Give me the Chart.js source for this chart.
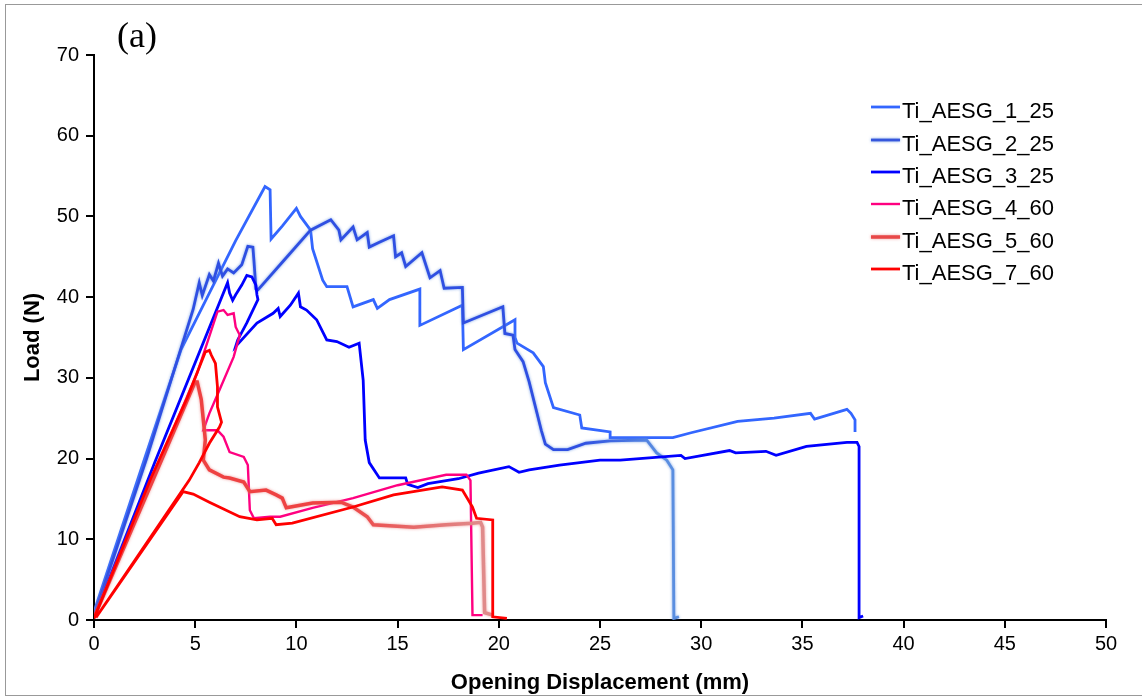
<!DOCTYPE html>
<html>
<head>
<meta charset="utf-8">
<script src="https://cdn.jsdelivr.net/npm/chart.js@4.4.1/dist/chart.umd.min.js"></script>
<style>
  html, body { margin: 0; padding: 0; background: #ffffff; }
  #wrap { position: relative; width: 1142px; height: 698px; overflow: hidden; }
  #frame { position: absolute; left: 5px; top: 4px; width: 1145px; height: 692px;
           border: 1px solid #999999; box-sizing: border-box; }
  #c { position: absolute; left: 0; top: 0; }
</style>
</head>
<body>
<div id="wrap">
  <div id="frame"></div>
  <canvas id="c" width="1142" height="698"></canvas>
</div>
<script>
// Load vs. opening displacement, [displacement (mm), load (N)] pairs per specimen
const ti1_25 = [[0,1.0],[2.5,20],[4.3,33.5],[5.5,39.5],[7.0,47],[8.45,53.7],[8.7,53.3],[8.75,47.2],
  [9.3,48.8],[10.0,51],[10.2,50],[10.7,48.3],[10.8,46],[11.3,42.1],[11.5,41.3],[12.5,41.3],[12.8,38.8],
  [13.8,39.7],[14.0,38.6],[14.6,39.7],[16.1,41],[16.1,36.5],[18.2,39],[18.25,33.5],[20.8,37.2],[20.8,35],
  [20.9,34.3],[21.7,33.1],[22.2,31.4],[22.3,29.4],[22.7,26.3],[24.0,25.4],[24.1,23.8],[25.5,23.3],[25.5,22.6],
  [28.6,22.6],[29.5,23.2],[31.8,24.6],[33.6,25],[35.4,25.6],[35.6,24.9],[37.2,26.1],[37.4,25.6],[37.6,24.8],[37.6,23.3]];

const ti2_25 = [[0,0.5],[2.6,20],[4.9,38.5],[5.2,41.8],[5.35,40.2],[5.7,42.8],[5.9,42],[6.15,44.2],
  [6.35,42.6],[6.6,43.5],[6.9,43],[7.3,44],[7.6,46.3],[7.85,46.2],[7.9,44.6],[8.0,41],[8.1,40.9],
  [9.4,44.6],[10.7,48.3],[11.7,49.6],[12.1,48.3],[12.2,47.1],[12.8,48.7],[13.0,47.1],[13.5,48.0],
  [13.6,46.2],[14.1,46.8],[14.8,47.6],[14.9,45],[15.2,45.5],[15.4,43.8],[16.2,45.5],[16.6,42.4],
  [17.1,43.3],[17.3,41.1],[18.2,41.2],[18.25,36.8],[20.2,38.8],[20.3,35.5],[20.7,35.3],[20.8,33.5],
  [21.2,32],[21.5,29.5],[21.8,26.5],[22.1,23.5],[22.3,21.8],[22.7,21.1],[23.4,21.1],[24.3,21.9],
  [25.5,22.2],[27.3,22.3],[27.8,20.7],[28.3,19.8],[28.6,18.6],[28.65,0.2],[28.9,0.4]];

const ti3_25 = [[0,0.3],[3.0,19.5],[6.6,41.8],[6.7,40.5],[6.85,39.6],[7.0,40.3],[7.3,41.5],[7.55,42.7],
  [7.8,42.5],[8.0,41.5],[8.05,40.3],[8.1,39.7],[7.55,36.8],[7.1,34.7],[7.0,33.9],[8.05,36.8],[8.85,38],
  [9.1,38.6],[9.2,37.6],[9.7,39],[10.1,40.5],[10.2,38.8],[10.5,38.4],[11.0,37.2],[11.5,34.7],[12.0,34.5],
  [12.6,33.8],[13.1,34.3],[13.3,29.7],[13.4,22.3],[13.6,19.5],[14.1,17.6],[15.4,17.6],[15.5,16.8],
  [16.0,16.4],[16.5,16.9],[18.0,17.5],[19.0,18.2],[20.5,19],[21.0,18.3],[21.5,18.6],[23.0,19.2],
  [25.0,19.8],[26.0,19.8],[29.0,20.4],[29.2,20],[31.4,21],[31.7,20.7],[33.2,20.9],[33.7,20.4],
  [35.2,21.5],[37.2,22],[37.7,22],[37.8,21.5],[37.8,0.3],[38.0,0.5]];

const ti4_60 = [[0,0.3],[3.3,20],[5.1,30.6],[6.1,38.2],[6.4,38.4],[6.6,37.8],[6.9,38.0],[7.0,36.3],
  [7.2,35.3],[6.9,32.6],[6.2,28.5],[5.7,25.6],[5.4,23.5],[6.1,23.5],[6.4,22.7],[6.7,20.8],[7.4,20.2],
  [7.6,19.2],[7.7,13.6],[7.9,12.6],[8.7,12.8],[9.2,12.8],[10.8,13.9],[12.8,15.1],[15.0,16.7],
  [17.4,18.0],[18.4,18.0],[18.6,17.3],[18.7,0.6],[19.2,0.6]];

const ti5_60 = [[0,0.3],[2.0,12],[5.0,29.5],[5.1,29.5],[5.3,27.3],[5.5,22.3],[5.4,19.8],[5.7,18.6],
  [6.4,17.7],[6.7,17.6],[7.4,17.1],[7.7,15.9],[8.5,16.1],[9.0,15.5],[9.3,15.1],[9.5,13.9],[10.8,14.5],
  [12.2,14.6],[12.8,14.0],[13.5,12.8],[13.8,11.8],[15.8,11.5],[17.4,11.8],[18.7,12.0],[19.1,12.1],
  [19.2,11.5],[19.3,0.9],[19.7,0.6]];

const ti7_60 = [[0,0.2],[2.8,17.5],[4.6,27.5],[5.5,33.2],[5.7,33.4],[5.8,32.8],[6.0,31.8],[6.1,28.9],
  [6.1,26.4],[6.3,24.5],[6.2,23.9],[5.7,21.9],[5.2,19.5],[4.7,17.3],[0.1,0.3],[4.4,15.9],[4.9,15.6],
  [5.7,14.6],[7.2,12.8],[8.05,12.4],[8.8,12.6],[9.0,11.8],[9.8,12.0],[12.8,14.0],[14.8,15.5],
  [17.2,16.5],[18.2,16.1],[18.7,14.0],[18.9,12.6],[19.7,12.4],[19.7,0.4],[20.4,0.2]];

const seriesLabels = ['Ti_AESG_1_25', 'Ti_AESG_2_25', 'Ti_AESG_3_25', 'Ti_AESG_4_60', 'Ti_AESG_5_60', 'Ti_AESG_7_60'];
const seriesData = [ti1_25, ti2_25, ti3_25, ti4_60, ti5_60, ti7_60];
const xTicks = [0, 5, 10, 15, 20, 25, 30, 35, 40, 45, 50];
const yTicks = [0, 10, 20, 30, 40, 50, 60, 70];

const SANS = '"Liberation Sans", Arial, sans-serif';

// Horizontal colour fade along the x axis for the two softer traces
function fade(from, to, x0, x1) {
  return function (ctx) {
    const chart = ctx.chart;
    const xs = chart.scales.x;
    if (!chart.chartArea || !xs) return from;
    const g = chart.ctx.createLinearGradient(xs.getPixelForValue(x0), 0, xs.getPixelForValue(x1), 0);
    g.addColorStop(0, from);
    g.addColorStop(1, to);
    return g;
  };
}

const styles = [
  { color: '#3366FF', width: 2.8 },
  { color: fade('#2F4FE2', '#5A8EE0', 24, 28), legend: '#3556DC', width: 2.8, glow: 'rgba(90,140,225,0.8)' },
  { color: '#0000FF', width: 2.8 },
  { color: '#FF0080', width: 2.4 },
  { color: fade('#EE4242', '#E08A8A', 12, 19), legend: '#E84848', width: 3.5, glow: 'rgba(235,130,130,0.8)' },
  { color: '#FF0000', width: 2.8 }
];

const datasets = seriesData.map((pts, i) => ({
  label: seriesLabels[i],
  data: pts.map(p => ({ x: p[0], y: p[1] })),
  showLine: true,
  borderColor: styles[i].color,
  borderWidth: styles[i].width,
  pointRadius: 0,
  tension: 0,
  fill: false,
  order: seriesData.length - i
}));

// Soft halo under the glowing traces
const glowPlugin = {
  id: 'glow',
  beforeDatasetDraw(chart, args) {
    const st = styles[args.index];
    chart.ctx.save();
    if (st.glow) {
      chart.ctx.shadowColor = st.glow;
      chart.ctx.shadowBlur = 3;
    }
  },
  afterDatasetDraw(chart) {
    chart.ctx.restore();
  }
};

// Legend block inside the plot and the panel tag
const decorPlugin = {
  id: 'decor',
  afterDraw(chart) {
    const c = chart.ctx;
    c.save();
    const baselines = [118, 151, 183, 215, 248, 280];
    seriesLabels.forEach((lab, i) => {
      const st = styles[i];
      const yLine = baselines[i] - 11;
      c.save();
      if (st.glow) { c.shadowColor = st.glow; c.shadowBlur = 3; }
      c.strokeStyle = st.legend || st.color;
      c.lineWidth = st.width;
      c.beginPath();
      c.moveTo(871, yLine);
      c.lineTo(900, yLine);
      c.stroke();
      c.restore();
      c.fillStyle = '#000';
      c.font = '22px ' + SANS;
      c.textAlign = 'left';
      c.textBaseline = 'alphabetic';
      c.fillText(lab, 902, baselines[i]);
    });
    c.fillStyle = '#000';
    c.font = '36px "Liberation Serif", "Times New Roman", serif';
    c.textAlign = 'left';
    c.textBaseline = 'alphabetic';
    c.fillText('(a)', 117, 47);
    c.restore();
  }
};

new Chart(document.getElementById('c'), {
  type: 'scatter',
  data: { datasets },
  options: {
    responsive: false,
    animation: false,
    devicePixelRatio: 1,
    layout: { padding: { left: 0, top: 55, right: 36, bottom: 0 } },
    plugins: { legend: { display: false }, tooltip: { enabled: false } },
    scales: {
      x: {
        type: 'linear',
        min: xTicks[0],
        max: xTicks[xTicks.length - 1],
        afterBuildTicks: (s) => { s.ticks = xTicks.map(v => ({ value: v })); },
        afterFit: (s) => { s.height = 78; },
        grid: { drawOnChartArea: false, tickLength: 8, color: '#000', lineWidth: 2 },
        border: { color: '#000', width: 2 },
        ticks: { color: '#000', font: { family: SANS, size: 20 }, padding: 4, maxRotation: 0 },
        title: { display: true, text: 'Opening Displacement (mm)', color: '#000',
                 font: { family: SANS, size: 22, weight: 'bold' }, padding: { top: 0, bottom: 2 } }
      },
      y: {
        type: 'linear',
        min: yTicks[0],
        max: yTicks[yTicks.length - 1],
        afterBuildTicks: (s) => { s.ticks = yTicks.map(v => ({ value: v })); },
        afterFit: (s) => { s.width = 94; },
        grid: { drawOnChartArea: false, tickLength: 8, color: '#000', lineWidth: 2 },
        border: { color: '#000', width: 2 },
        ticks: { color: '#000', font: { family: SANS, size: 20 }, padding: 7 },
        title: { display: true, text: 'Load (N)', color: '#000',
                 font: { family: SANS, size: 22, weight: 'bold' }, padding: { top: 20, bottom: 0 } }
      }
    }
  },
  plugins: [glowPlugin, decorPlugin]
});
</script>
</body>
</html>
